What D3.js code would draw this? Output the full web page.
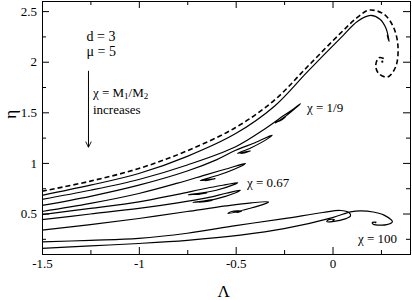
<!DOCTYPE html>
<html>
<head>
<meta charset="utf-8">
<script src="https://cdn.jsdelivr.net/npm/d3@7"></script>
<style>
  body { margin: 0; background: #fff; }
  svg text { font-family: "Liberation Serif", "Times New Roman", Times, "DejaVu Serif", serif; fill: #000; }
</style>
</head>
<body>
<div id="chart"></div>
<script>
// axis ranges and ticks
var xDomain = [-1.5, 0.4];
var yDomain = [0.1, 2.6];
var xMajor = [-1.5, -1, -0.5, 0];
var xMinor = [-1.25, -0.75, -0.25, 0.25];
var yMajor = [0.5, 1, 1.5, 2, 2.5];
var yMinor = [0.25, 0.75, 1.25, 1.75, 2.25];

// curves: [Lambda, eta]
var dashedCurve = [[-1.5,0.72],[-1.25,0.82],[-1.0,0.945],[-0.75,1.12],[-0.5,1.35],[-0.3,1.62],[-0.13,1.95],[0.04,2.28],[0.13,2.44],[0.19,2.51],[0.265,2.47],[0.315,2.34],[0.338,2.15],[0.326,1.95],[0.285,1.85],[0.24,1.88],[0.223,1.96],[0.24,2.04],[0.266,2.03]];
var dashedDot = [0.257, 2.0];

var solidCurves = [
  [[-1.5,0.68],[-1.25,0.78],[-1.0,0.895],[-0.75,1.065],[-0.5,1.29],[-0.3,1.56],[-0.13,1.9],[0.04,2.23],[0.13,2.40],[0.197,2.457],[0.245,2.42],[0.276,2.33],[0.292,2.2],[0.282,2.26],[0.288,2.23]],
  [[-1.5,0.64],[-1.25,0.73],[-1.0,0.836],[-0.75,0.98],[-0.5,1.16],[-0.35,1.335],[-0.25,1.47],[-0.2,1.535],[-0.165,1.586],[-0.18,1.56],[-0.24,1.465],[-0.295,1.395],[-0.27,1.425],[-0.243,1.452],[-0.268,1.42],[-0.28,1.41]],
  [[-1.5,0.58],[-1.25,0.67],[-1.0,0.78],[-0.75,0.92],[-0.6,1.03],[-0.5,1.125],[-0.4,1.2],[-0.312,1.273],[-0.33,1.245],[-0.42,1.15],[-0.49,1.095],[-0.46,1.105],[-0.424,1.118],[-0.455,1.1],[-0.475,1.095]],
  [[-1.5,0.52],[-1.25,0.60],[-1.0,0.698],[-0.8,0.8],[-0.65,0.885],[-0.55,0.94],[-0.45,0.994],[-0.47,0.97],[-0.58,0.885],[-0.683,0.825],[-0.64,0.835],[-0.605,0.845],[-0.64,0.83],[-0.66,0.826]],
  [[-1.5,0.49],[-1.25,0.55],[-1.0,0.615],[-0.8,0.69],[-0.65,0.75],[-0.55,0.785],[-0.49,0.805],[-0.51,0.785],[-0.6,0.73],[-0.745,0.685],[-0.7,0.695],[-0.648,0.705],[-0.69,0.69],[-0.71,0.688]],
  [[-1.5,0.44],[-1.25,0.495],[-1.0,0.55],[-0.8,0.605],[-0.65,0.655],[-0.55,0.7],[-0.476,0.73],[-0.5,0.705],[-0.6,0.645],[-0.72,0.61],[-0.67,0.62],[-0.62,0.63],[-0.66,0.617],[-0.69,0.612]],
  [[-1.5,0.336],[-1.25,0.39],[-1.0,0.451],[-0.75,0.52],[-0.55,0.575],[-0.42,0.605],[-0.33,0.615],[-0.35,0.595],[-0.43,0.55],[-0.54,0.5],[-0.52,0.52],[-0.47,0.525],[-0.49,0.512],[-0.5,0.516]],
  [[-1.5,0.22],[-1.25,0.235],[-1.0,0.254],[-0.75,0.305],[-0.5,0.38],[-0.25,0.45],[-0.05,0.51],[0.04,0.53],[0.085,0.51],[0.093,0.475],[0.07,0.45],[0.0,0.42],[-0.03,0.42],[-0.02,0.44],[0.01,0.44],[0.0,0.43]],
  [[-1.5,0.155],[-1.25,0.18],[-1.0,0.204],[-0.75,0.235],[-0.476,0.286],[-0.25,0.35],[0.0,0.46],[0.093,0.516],[0.145,0.526],[0.21,0.515],[0.266,0.484],[0.309,0.418],[0.28,0.39],[0.249,0.385],[0.21,0.395],[0.205,0.41],[0.225,0.415],[0.22,0.405]]
];

var serif = '"Liberation Serif", "Times New Roman", Times, "DejaVu Serif", serif';

var width = 412, height = 300;
var margin = { top: 1, right: 2, bottom: 46, left: 42 };
var w = width - margin.left - margin.right,
    h = height - margin.top - margin.bottom;

var svg = d3.select("#chart").append("svg")
    .attr("width", width)
    .attr("height", height)
    .style("font-family", serif);

var g = svg.append("g")
    .attr("transform", "translate(" + margin.left + "," + margin.top + ")");

var x = d3.scaleLinear().domain(xDomain).range([0, w]);
var y = d3.scaleLinear().domain(yDomain).range([h, 0]);

// axes, ticks pointing inwards on all four sides
function styleAxis(sel) {
    sel.attr("font-family", null);
    sel.selectAll("path, line").attr("stroke", "#000").attr("stroke-width", 1);
    sel.selectAll("text")
        .style("font-family", serif)
        .style("font-size", "13px")
        .attr("fill", "#000");
}
var fmt = function (d) { return String(d); };

g.append("g").attr("transform", "translate(0," + h + ")")
    .call(d3.axisBottom(x).tickValues(xMajor).tickSize(-7).tickPadding(5).tickFormat(fmt))
    .call(styleAxis);
g.append("g").attr("transform", "translate(0," + h + ")")
    .call(d3.axisBottom(x).tickValues(xMinor).tickSize(-4).tickFormat(""))
    .call(styleAxis);
g.append("g")
    .call(d3.axisTop(x).tickValues(xMajor).tickSize(-7).tickFormat(""))
    .call(styleAxis);
g.append("g")
    .call(d3.axisTop(x).tickValues(xMinor).tickSize(-4).tickFormat(""))
    .call(styleAxis);

g.append("g")
    .call(d3.axisLeft(y).tickValues(yMajor).tickSize(-7).tickPadding(5).tickFormat(fmt))
    .call(styleAxis);
g.append("g")
    .call(d3.axisLeft(y).tickValues(yMinor).tickSize(-4).tickFormat(""))
    .call(styleAxis);
g.append("g").attr("transform", "translate(" + w + ",0)")
    .call(d3.axisRight(y).tickValues(yMajor).tickSize(-7).tickFormat(""))
    .call(styleAxis);
g.append("g").attr("transform", "translate(" + w + ",0)")
    .call(d3.axisRight(y).tickValues(yMinor).tickSize(-4).tickFormat(""))
    .call(styleAxis);

// curves
var line = d3.line()
    .x(function (d) { return x(d[0]); })
    .y(function (d) { return y(d[1]); })
    .curve(d3.curveCatmullRom.alpha(0.5));

g.append("g").selectAll("path")
    .data(solidCurves)
    .enter().append("path")
    .attr("d", line)
    .attr("fill", "none")
    .attr("stroke", "#000")
    .attr("stroke-width", 1.2);

g.append("path")
    .datum(dashedCurve)
    .attr("d", line)
    .attr("fill", "none")
    .attr("stroke", "#000")
    .attr("stroke-width", 1.6)
    .attr("stroke-dasharray", "5,3");

g.append("circle")
    .attr("cx", x(dashedDot[0]))
    .attr("cy", y(dashedDot[1]))
    .attr("r", 1.1);

// axis titles
svg.append("text")
    .attr("x", margin.left + x(-0.5) - 12)
    .attr("y", 297)
    .attr("text-anchor", "middle")
    .style("font-family", serif)
    .style("font-size", "17px")
    .text("Λ");

svg.append("text")
    .attr("transform", "translate(16," + (margin.top + y(1.48)) + ") rotate(-90)")
    .attr("text-anchor", "middle")
    .style("font-family", serif)
    .style("font-size", "17px")
    .text("η");

// annotations
function note(xv, yv, size, str) {
    return g.append("text")
        .attr("x", x(xv)).attr("y", y(yv))
        .style("font-family", serif)
        .style("font-size", size + "px")
        .text(str);
}
note(-1.27, 2.2, 14, "d = 3");
note(-1.27, 2.055, 14, "μ = 5");

svg.append("defs").append("marker")
    .attr("id", "arrow")
    .attr("viewBox", "0 0 10 10")
    .attr("refX", 9).attr("refY", 5)
    .attr("markerWidth", 7).attr("markerHeight", 7)
    .attr("orient", "auto")
    .append("path")
    .attr("d", "M1,1 L9,5 L1,9")
    .attr("fill", "none")
    .attr("stroke", "#000")
    .attr("stroke-width", 1.3);

g.append("line")
    .attr("x1", x(-1.26)).attr("x2", x(-1.26))
    .attr("y1", y(1.91)).attr("y2", y(1.155))
    .attr("stroke", "#000").attr("stroke-width", 1)
    .attr("marker-end", "url(#arrow)");

var chiLabel = note(-1.237, 1.655, 13, "χ = M");
chiLabel.append("tspan").attr("dy", 2).style("font-size", "9px").text("1");
chiLabel.append("tspan").attr("dy", -2).text("/M");
chiLabel.append("tspan").attr("dy", 2).style("font-size", "9px").text("2");
note(-1.237, 1.485, 13, "increases");

note(-0.132, 1.506, 13, "χ = 1/9");
note(-0.442, 0.765, 13, "χ = 0.67");
note(0.131, 0.208, 13, "χ = 100");
</script>
</body>
</html>
